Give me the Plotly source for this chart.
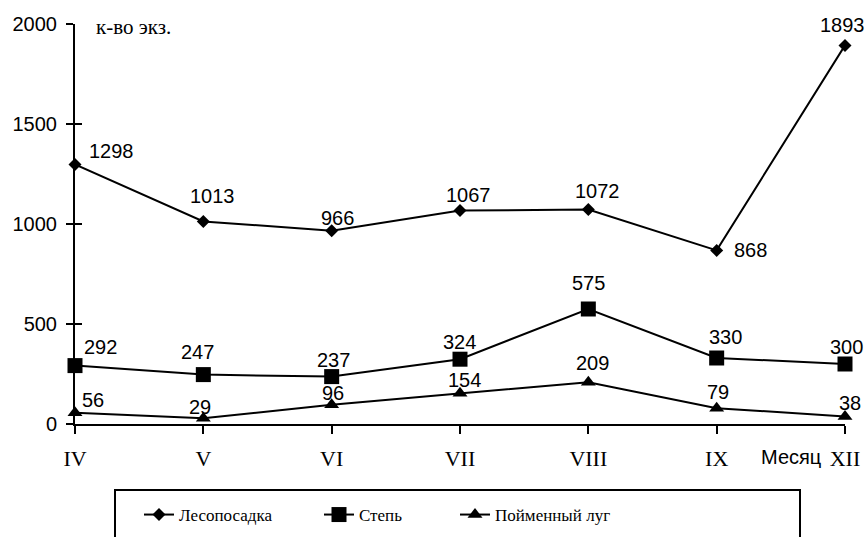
import plotly.graph_objects as go

months = ["IV", "V", "VI", "VII", "VIII", "IX", "XII"]
lesoposadka = [1298, 1013, 966, 1067, 1072, 868, 1893]
step = [292, 247, 237, 324, 575, 330, 300]
lug = [56, 29, 96, 154, 209, 79, 38]

x = list(range(len(months)))

# pixel offsets of each value label from its point (dx, dy)
off_les = [(36, 13), (9, 25), (6, 13), (8, 16), (9, 19), (34, 0), (-3, 20)]
off_step = [(25, 19), (-6, 23), (2, 17), (-1, 17), (0, 26), (9, 21), (1, 17)]
off_lug = [(18, 13), (-3, 11), (1, 12), (4, 13), (4, 19), (1, 16), (5, 13)]

SANS = "Liberation Sans, Arial, sans-serif"
SERIF = "Liberation Serif, Times New Roman, DejaVu Serif, serif"
label_font = dict(family=SANS, size=20, color="black")

fig = go.Figure()
annotations = []

def add_series(name, values, symbol, size, offsets, legend):
    fig.add_trace(go.Scatter(
        x=x, y=values, name=name, mode="lines+markers",
        line=dict(color="black", width=2),
        marker=dict(symbol=symbol, size=size, color="black"),
        cliponaxis=False, legend=legend,
    ))
    for xi, v, (dx, dy) in zip(x, values, offsets):
        annotations.append(dict(
            x=xi, y=v, xref="x", yref="y", text=str(v), showarrow=False,
            xanchor="center", yanchor="middle", xshift=dx, yshift=dy,
            font=label_font,
        ))

add_series("Лесопосадка", lesoposadka, "diamond", 10, off_les, "legend")
add_series("Степь", step, "square", 15, off_step, "legend2")
add_series("Пойменный луг", lug, "triangle-up", 13, off_lug, "legend3")

# invisible trace that carries the inner half of the crossing y ticks
fig.add_trace(go.Scatter(x=[0], y=[0], yaxis="y2", mode="markers",
                         marker=dict(opacity=0), showlegend=False, hoverinfo="skip"))

def px_x(p):
    return (p - 75) / 770

def px_y(p):
    return (424 - p) / 400

legend_common = dict(
    orientation="h", xanchor="left", y=px_y(515), yanchor="middle",
    font=dict(family=SERIF, size=17, color="black"),
    bgcolor="rgba(0,0,0,0)", borderwidth=0, itemwidth=30,
)

annotations += [
    dict(text="к-во экз.", xref="paper", yref="paper", x=px_x(94), y=px_y(27),
         xanchor="left", yanchor="middle", showarrow=False,
         font=dict(family=SERIF, size=21, color="black")),
    dict(text="Месяц", xref="paper", yref="paper", x=px_x(823), y=px_y(457),
         xanchor="right", yanchor="middle", showarrow=False,
         font=dict(family=SANS, size=20, color="black")),
]

fig.update_layout(
    width=867, height=537,
    margin=dict(l=75, r=22, t=24, b=113, autoexpand=False),
    paper_bgcolor="white", plot_bgcolor="white",
    showlegend=True,
    xaxis=dict(
        range=[0, len(months) - 1], tickmode="array", tickvals=x, ticktext=months,
        showgrid=False, zeroline=False, showline=True, linecolor="black", linewidth=2,
        ticks="outside", ticklen=8, tickwidth=2, tickcolor="black",
        ticklabelstandoff=6,
        tickfont=dict(family=SERIF, size=22, color="black"),
        fixedrange=True,
    ),
    yaxis=dict(
        range=[0, 2000], tickvals=[0, 500, 1000, 1500, 2000],
        showgrid=False, zeroline=False, showline=True, linecolor="black", linewidth=2,
        ticks="outside", ticklen=7, tickwidth=2, tickcolor="black",
        ticklabelstandoff=5,
        tickfont=dict(family=SANS, size=20, color="black"),
        fixedrange=True,
    ),
    yaxis2=dict(
        range=[0, 2000], tickvals=[0, 500, 1000, 1500, 2000], overlaying="y", side="left",
        showgrid=False, zeroline=False, showline=False, showticklabels=False,
        ticks="inside", ticklen=7, tickwidth=2, tickcolor="black", fixedrange=True,
    ),
    legend=dict(legend_common, x=px_x(139)),
    legend2=dict(legend_common, x=px_x(319)),
    legend3=dict(legend_common, x=px_x(455)),
    annotations=annotations,
    shapes=[
        dict(type="rect", xref="paper", yref="paper",
             x0=px_x(115), x1=px_x(800), y0=px_y(490), y1=px_y(548),
             line=dict(color="black", width=2), fillcolor="rgba(0,0,0,0)"),
    ],
)

fig.write_html("out.html")
